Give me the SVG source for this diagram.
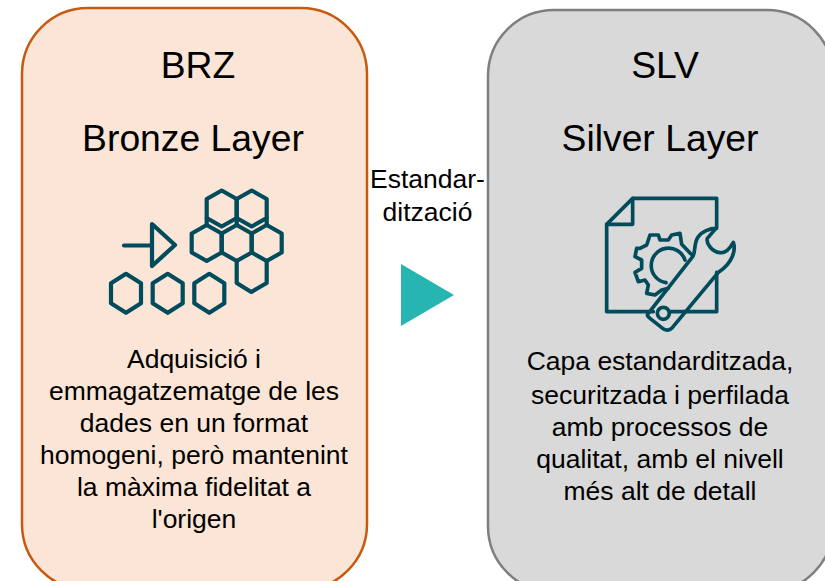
<svg xmlns="http://www.w3.org/2000/svg" width="825" height="581" viewBox="0 0 825 581">
<style>
text{font-family:"Liberation Sans",Arial,sans-serif;fill:#000;text-anchor:middle}
.t{font-size:37.300px}.b{font-size:26.500px}
.i{fill:none;stroke:#004B5C;stroke-linejoin:round;stroke-linecap:round}
</style>
<defs>
<polygon id="hex" points="0,-18 15,-9.500 15,9.500 0,18 -15,9.500 -15,-9.500"/>
<polygon id="hexb" points="0,-19.500 15,-10 15,10 0,19.500 -15,10 -15,-10"/>
</defs>
<rect width="825" height="581" fill="#fff"/>
<g id="bronze">
<rect x="22" y="8" width="345" height="582" rx="66" ry="66" fill="#FBE5D6" stroke="#C55A11" stroke-width="2.500"/>
<text class="t" x="198" y="78">BRZ</text>
<text class="t" x="193" y="151">Bronze Layer</text>
<g class="i" stroke-width="4.200">
<path d="M124 245.500H152M152 224L175 245L152 266Z"/>
<use href="#hex" x="221.700" y="208.500"/><use href="#hex" x="251.700" y="208.500"/>
<use href="#hex" x="206.700" y="243"/><use href="#hex" x="236.700" y="243"/><use href="#hex" x="266.700" y="243"/>
<path d="M206.700 218V225M236.700 218V225M266.700 218V225M236.700 261V283L251.300 292L266.700 283V261"/>
<use href="#hexb" x="126" y="293.300"/><use href="#hexb" x="167.700" y="293.300"/><use href="#hexb" x="209.300" y="293.300"/>
</g>
<text class="b" x="194" y="368">Adquisició i</text>
<text class="b" x="194" y="400">emmagatzematge de les</text>
<text class="b" x="194" y="432">dades en un format</text>
<text class="b" x="194" y="464">homogeni, però mantenint</text>
<text class="b" x="194" y="496">la màxima fidelitat a</text>
<text class="b" x="194" y="528">l'origen</text>
</g>
<g id="silver">
<rect x="488" y="10" width="345" height="582" rx="66" ry="66" fill="#D9D9D9" stroke="#7F7F7F" stroke-width="2.500"/>
<text class="t" x="665" y="78">SLV</text>
<text class="t" x="660" y="151">Silver Layer</text>
<g class="i" stroke-width="11" transform="translate(590 185) scale(.33333)">
<path d="M190 380H50V118L128 40H380V130M380 262V380H238"/>
<path d="M128 40V118H50"/>
<path d="M303 207L275 178L270 145L245 150L235 165L210 165L205 150L180 150L170 180L150 190L140 190L135 215L155 225L155 250L135 262L145 290L165 285L175 300L170 325L195 330L215 315L235 310"/>
<path d="M285 225A52 52 0 1 0 228 293"/>
<path d="M175 385L308 215C318 200 310 175 325 155C335 140 360 130 378 130L352 160C348 175 365 200 390 203C405 205 420 190 430 172C438 195 428 235 385 262L245 430C238 438 225 436 218 430L180 400C172 394 170 390 175 385Z"/>
<circle cx="220" cy="385" r="18"/>
</g>
<text class="b" x="660" y="370">Capa estandarditzada,</text>
<text class="b" x="660" y="404">securitzada i perfilada</text>
<text class="b" x="660" y="436">amb processos de</text>
<text class="b" x="660" y="468">qualitat, amb el nivell</text>
<text class="b" x="660" y="500">més alt de detall</text>
</g>
<g id="connectors">
<polygon points="401,264 454,295 401,326" fill="#26B5B0"/>
</g>
<g id="label">
<text class="b" x="427.500" y="188">Estandar-</text>
<text class="b" x="427.500" y="221">dització</text>
</g>
</svg>
